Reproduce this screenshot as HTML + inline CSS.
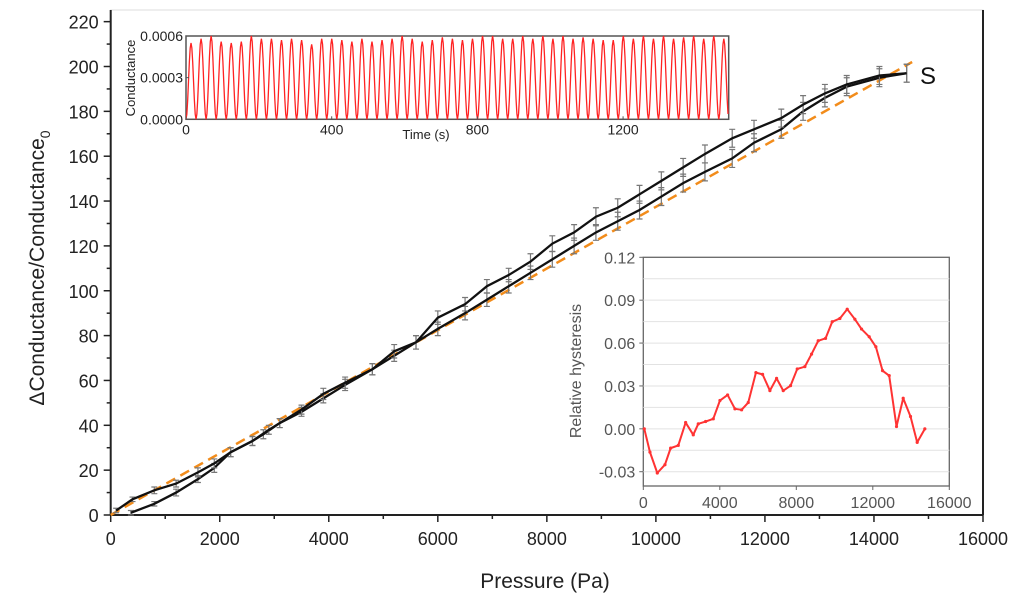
<!DOCTYPE html>
<html><head><meta charset="utf-8"><style>
html,body{margin:0;padding:0;background:#fff;}
svg{display:block;font-family:"Liberation Sans",sans-serif;}
</style></head><body>
<svg id="chart" width="1024" height="604" viewBox="0 0 1024 604">
<rect width="1024" height="604" fill="#fff"/>
<g id="main"></g>
<g id="ins1"></g>
<g id="ins2"></g>
<text x="920" y="84" font-size="24" fill="#111">S</text>
</svg>
<script>
const loadP=[370,800,1200,1600,1900,2200,2600,2800,3100,3500,3900,4300,4800,5200,5600,6000,6500,6900,7300,7700,8100,8500,8900,9300,9700,10100,10500,10900,11400,11800,12300,12700,13100,13500,14100,14600];
const loadV=[1,5,10,16,21,28,33,36,41,46,52,58,65,71,77,83,90,96,102,108,114,120,126,131,136,142,148,153,159,166,172,180,186,191,195,197];
const unloadP=[100,400,800,1200,1600,1900,2200,2600,2900,3100,3500,3900,4300,4800,5200,5600,6000,6500,6900,7300,7700,8100,8500,8900,9300,9700,10100,10500,10900,11400,11800,12300,12700,13100,13500,14100,14600];
const unloadV=[2,7,11,14,19,23,28,33,38,41,47,54,59,65,73,77,88,94,102,107,113,121,126,133,137,143,149,155,161,168,172,177,183,188,192,196,197];
const errHalf=[1,1,1.5,1.5,2,2,2,2,2,2,2,2.5,2.5,2.5,3,3,3,3,3,3,3.5,3.5,3.5,4,4,4,4,4,4,4,4,4,4,4,4,4,4];
const fitP=[0,14700];
const fitV=[0,202];
const mainXTicks=[0,2000,4000,6000,8000,10000,12000,14000,16000];
const mainYTicks=[0,20,40,60,80,100,120,140,160,180,200,220];
const peaks=[0.00055,0.00058,0.0006,0.00056,0.00055,0.00056,0.0006,0.00058,0.00058,0.00057,0.00058,0.00057,0.00054,0.00058,0.00058,0.00057,0.00056,0.00058,0.00056,0.00057,0.00058,0.0006,0.00058,0.00056,0.00057,0.00059,0.00058,0.00057,0.00058,0.0006,0.0006,0.00058,0.00058,0.0006,0.00058,0.0006,0.00058,0.0006,0.00058,0.00059,0.00058,0.00057,0.00057,0.0006,0.00058,0.0006,0.00058,0.0006,0.00058,0.00059,0.0006,0.00058,0.0006,0.00058];
const period=27.6;
const ins1XTicks=[0,400,800,1200];
const ins1YTicks=[0,0.0003,0.0006];
const ins1YLabels=["0.0000","0.0003","0.0006"];
const hystP=[52,348,732,1132,1429,1829,2213,2613,2875,3258,3659,4007,4408,4791,5139,5488,5889,6237,6620,6969,7317,7700,8049,8449,8798,9146,9530,9878,10279,10662,11063,11411,11812,12160,12509,12857,13240,13589,13972,14321,14721];
const hystV=[0,-0.0163,-0.0309,-0.0251,-0.0135,-0.0116,0.0044,-0.0042,0.0035,0.0051,0.007,0.0198,0.0237,0.014,0.0133,0.0184,0.0393,0.0381,0.0267,0.0353,0.0267,0.0302,0.0419,0.0435,0.0523,0.0616,0.0633,0.0749,0.0772,0.0837,0.0767,0.0698,0.0644,0.0574,0.0407,0.0372,0.0016,0.0214,0.0086,-0.0095,0];
const ins2XTicks=[0,4000,8000,12000,16000];
const ins2YTicks=[-0.03,0,0.03,0.06,0.09,0.12];
const ins2YLabels=["-0.03","0.00","0.03","0.06","0.09","0.12"];

const NS="http://www.w3.org/2000/svg";
function mk(parent,tag,attrs,text){const e=document.createElementNS(NS,tag);for(const k in attrs)e.setAttribute(k,attrs[k]);if(text!==undefined)e.textContent=text;parent.appendChild(e);return e;}

// ---- main plot ----
const M=document.getElementById('main');
const L=110.7,R=983,B=515,T=10;
const mx=p=>L+(p/16000)*(R-L);
const my=v=>B-v*2.2425;
let e;
e=mk(M,'rect',{x:L,y:T,width:R-L,height:B-T,fill:'none',stroke:'#ddd','stroke-width':1});


e=mk(M,'line',{x1:L,y1:T,x2:L,y2:B,stroke:'#222','stroke-width':2});


e=mk(M,'line',{x1:L,y1:B,x2:R,y2:B,stroke:'#222','stroke-width':2});


e=mk(M,'line',{x1:R,y1:T,x2:R,y2:B,stroke:'#222','stroke-width':2});


mainXTicks.forEach((t,i)=>{
  const x=mx(t);
  mk(M,'line',{x1:x,y1:B,x2:x,y2:B+7,stroke:'#222','stroke-width':1.5});
  if(i<mainXTicks.length-1){const xm=mx(t+1000);mk(M,'line',{x1:xm,y1:B,x2:xm,y2:B+4,stroke:'#222','stroke-width':1.5});}
  e=mk(M,'text',{x:x,y:B+30,'font-size':18,'text-anchor':'middle',fill:'#222'},String(t));
  
  
});
mainYTicks.forEach((t,i)=>{
  const y=my(t);
  mk(M,'line',{x1:L-7,y1:y,x2:L,y2:y,stroke:'#222','stroke-width':1.5});
  if(i<mainYTicks.length-1){const ym=my(t+10);mk(M,'line',{x1:L-4,y1:ym,x2:L,y2:ym,stroke:'#222','stroke-width':1.5});}
  e=mk(M,'text',{x:L-12,y:y+7,'font-size':18,'text-anchor':'end',fill:'#222'},String(t));
  
  
});
e=mk(M,'text',{x:545,y:588,'font-size':21,'text-anchor':'middle',fill:'#222'},'Pressure (Pa)');


e=mk(M,'text',{transform:'translate(44,268) rotate(-90)','font-size':21,'text-anchor':'middle',fill:'#222'});


e.innerHTML='ΔConductance/Conductance<tspan font-size="14" dy="6">0</tspan>';
// fit line
e=mk(M,'line',{x1:mx(fitP[0]),y1:my(fitV[0]),x2:mx(fitP[1]),y2:my(fitV[1]),stroke:'#f28c1b','stroke-width':2.5,'stroke-dasharray':'10,6'});


function series(P,V,name){
  P.forEach((p,i)=>{
    const x=mx(p),h=(errHalf[i]||3)*2.2425;const y=my(V[i]);
    const g=mk(M,'path',{d:`M${x},${y-h}V${y+h}M${x-3},${y-h}H${x+3}M${x-3},${y+h}H${x+3}`,stroke:'#777','stroke-width':1.2,fill:'none'});
    
    
  });
  const l=mk(M,'path',{d:P.map((p,i)=>(i?'L':'M')+mx(p)+','+my(V[i])).join(''),stroke:'#111','stroke-width':2.3,fill:'none'});
  
  
}
series(loadP,loadV,'loading');
series(unloadP,unloadV,'unloading');

// ---- inset 1 ----
const I1=document.getElementById('ins1');
const aL=186,aR=728.7,aT=36,aB=119.3;
const tx=t=>aL+t*(aR-aL)/1490;
const cy=v=>aB-v/0.0006*(aB-aT);
e=mk(I1,'rect',{x:aL,y:aT,width:aR-aL,height:aB-aT,fill:'#fff',stroke:'#555','stroke-width':1.5});


let d='M'+tx(0)+','+cy(0);
peaks.forEach((pk,i)=>{
  for(let k=1;k<=12;k++){const ph=k/12;const t=(i+ph)*period;if(t>1490)break;d+='L'+tx(t).toFixed(2)+','+cy(pk*(1-Math.cos(2*Math.PI*ph))/2).toFixed(2);}
});
e=mk(I1,'path',{d:d,stroke:'#f22','stroke-width':1.3,fill:'none'});


ins1XTicks.forEach(t=>{
  mk(I1,'line',{x1:tx(t),y1:aB,x2:tx(t),y2:aB-3,stroke:'#555'});
  e=mk(I1,'text',{x:tx(t),y:aB+15,'font-size':14,'text-anchor':'middle',fill:'#222'},String(t));
  
  
});
ins1YTicks.forEach((t,i)=>{
  mk(I1,'line',{x1:aL,y1:cy(t),x2:aL+3,y2:cy(t),stroke:'#555'});
  e=mk(I1,'text',{x:aL-3,y:cy(t)+5,'font-size':14,'text-anchor':'end',fill:'#222'},ins1YLabels[i]);
  
  
});
e=mk(I1,'text',{x:426,y:139,'font-size':13,'text-anchor':'middle',fill:'#222'},'Time (s)');


e=mk(I1,'text',{transform:'translate(135,78) rotate(-90)','font-size':13,'text-anchor':'middle',fill:'#222'},'Conductance');



// ---- inset 2 ----
const I2=document.getElementById('ins2');
const bL=643.3,bR=949.3,bT=257.3,bB=486;
const hx=p=>bL+p*(bR-bL)/16000;
const hy=v=>bB-(v+0.04)/0.16*(bB-bT);
e=mk(I2,'rect',{x:bL,y:bT,width:bR-bL,height:bB-bT,fill:'#fff',stroke:'#666','stroke-width':1.3});


for(let v=-0.03;v<0.12;v+=0.015){mk(I2,'line',{x1:bL,y1:hy(v),x2:bR,y2:hy(v),stroke:'#e2e2e2','stroke-width':1});}
ins2YTicks.forEach((t,i)=>{
  mk(I2,'line',{x1:bL-4,y1:hy(t),x2:bL,y2:hy(t),stroke:'#666'});
  e=mk(I2,'text',{x:bL-8,y:hy(t)+6,'font-size':16,'text-anchor':'end',fill:'#555'},ins2YLabels[i]);
  
  
});
ins2XTicks.forEach(t=>{
  mk(I2,'line',{x1:hx(t),y1:bB,x2:hx(t),y2:bB+4,stroke:'#666'});
  e=mk(I2,'text',{x:hx(t),y:bB+22,'font-size':16,'text-anchor':'middle',fill:'#555'},String(t));
  
  
});
e=mk(I2,'text',{transform:'translate(581,371) rotate(-90)','font-size':16,'text-anchor':'middle',fill:'#555'},'Relative hysteresis');


e=mk(I2,'path',{d:hystP.map((p,i)=>(i?'L':'M')+hx(p)+','+hy(hystV[i])).join(''),stroke:'#f33','stroke-width':2,fill:'none','stroke-linejoin':'round'});


hystP.forEach((p,i)=>{
  const m=mk(I2,'circle',{cx:hx(p),cy:hy(hystV[i]),r:1.6,fill:'#f33'});
  
  
});
</script>
</body></html>
